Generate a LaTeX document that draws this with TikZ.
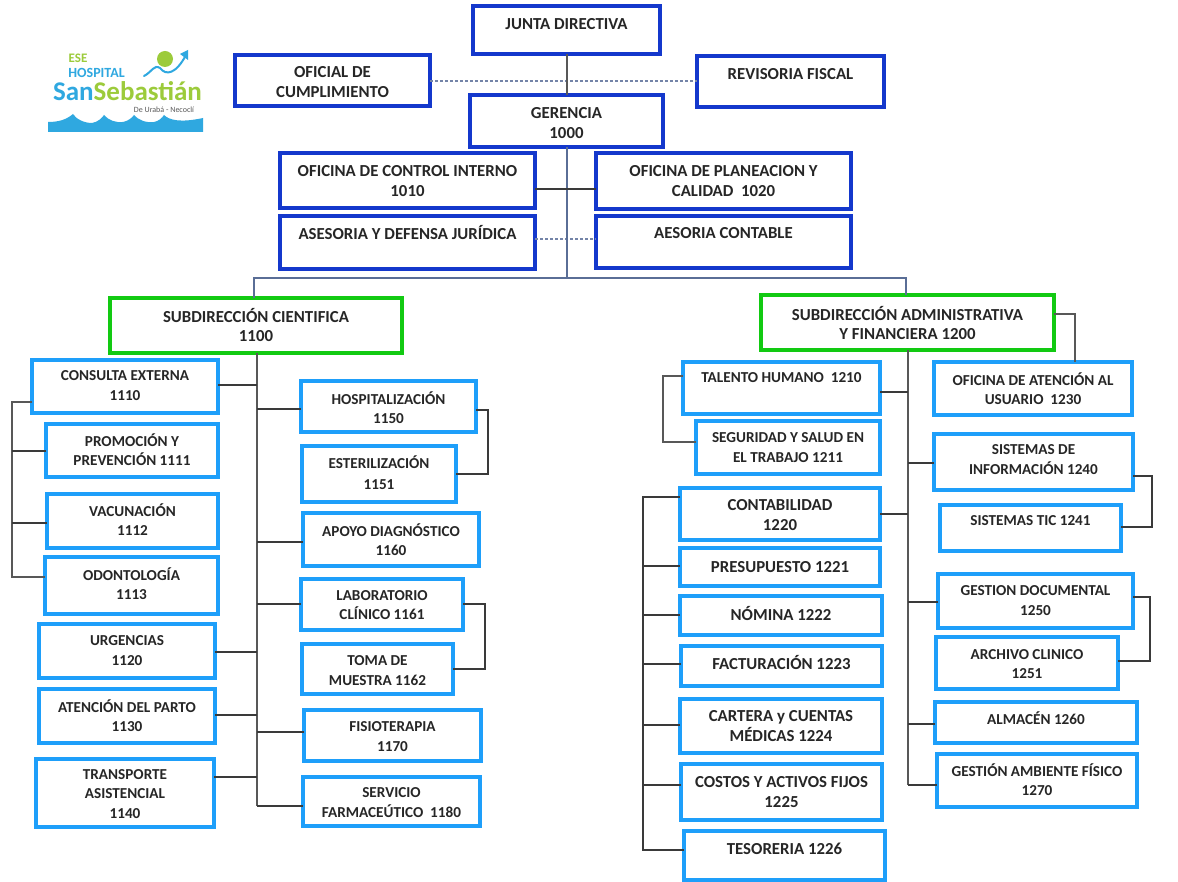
\documentclass[tikz,border=0pt]{standalone}
\usepackage{fontspec}
\setmainfont{Carlito}
\usetikzlibrary{calc}
\definecolor{bdark}{HTML}{1438CC}
\definecolor{blight}{HTML}{1E9FFA}
\definecolor{bgreen}{HTML}{12CA12}
\definecolor{txt}{HTML}{262626}
\definecolor{lnk}{HTML}{3A3A3A}
\definecolor{slate}{HTML}{5A6E96}
\definecolor{dotc}{HTML}{7484A8}
\definecolor{logoblue}{HTML}{2FA8E0}
\definecolor{logogreen}{HTML}{9CCB3B}
\newcommand{\lblbig}{\fontsize{16.8}{19.6}\selectfont}
\newcommand{\lblsmall}{\fontsize{15.2}{19.2}\selectfont}
\tikzset{
  boxdark/.style={draw=bdark,line width=3.1pt},
  boxlight/.style={draw=blight,line width=3.1pt},
  boxgreen/.style={draw=bgreen,line width=3.1pt},
  lblb/.style={text=txt,font=\bfseries\lblbig,align=center,inner sep=0pt},
  lbls/.style={text=txt,font=\bfseries\lblsmall,align=center,inner sep=0pt},
  lnkline/.style={draw=lnk,line width=1.3pt},
  trunkline/.style={draw=lnk!85,line width=1.7pt},
  slateline/.style={draw=slate,line width=1.6pt},
  dotline/.style={draw=dotc,line width=2.2pt,dash pattern=on 3pt off 2pt},
}
% \bx[text style]{name}{box style}{x1}{y1}{x2}{y2}{text centre y}{text}
\newcommand{\bx}[9][lbls]{%
  \path[#3] (#4,#5) rectangle (#6,#7);
  \node[inner sep=0pt,outer sep=0pt,minimum width={(#6-#4)*1pt},minimum height={(#7-#5)*1pt}] (#2) at ({(#4+#6)/2},{(#5+#7)/2}) {};
  \node[#1] (#2-t) at ({(#4+#6)/2},#8) {#9};
}
\begin{document}
\begin{tikzpicture}[x=1pt,y=-1pt]
\useasboundingbox[fill=white] (0,0) rectangle (1178,882);

% logo
\fill[logoblue] (48,132) -- (48,122) .. controls (58,122) and (66,120) .. (73,114) .. controls (76,119) and (84,123) .. (92,123) .. controls (98,122) and (102,118) .. (104,115) .. controls (108,120) and (116,123) .. (123,122) .. controls (128,121) and (132,118) .. (134,115) .. controls (138,120) and (146,123) .. (154,122) .. controls (159,121) and (162,118) .. (164,115) .. controls (169,120) and (180,123) .. (203,118) -- (203,132) -- cycle;
\node[inner sep=0pt,text=logogreen,font=\bfseries\fontsize{13}{13}\selectfont] (logoa) at (78,58) {ESE};
\node[inner sep=0pt,text=logoblue,font=\bfseries\fontsize{14}{14}\selectfont] (logob) at (96.5,73) {HOSPITAL};
\node[inner sep=0pt,font=\bfseries\fontsize{27}{27}\selectfont] (logoc) at (127.5,91) {\textcolor{logoblue}{San}\textcolor{logogreen}{Sebastián}};
\node[inner sep=0pt,text=black!65,font=\fontsize{8}{9}\selectfont] (logod) at (164,110) {De Urabá - Necoclí};
\fill[logogreen] (165,59) circle (8);
\draw[logoblue,line width=2pt,line cap=round] (144,76) .. controls (152,72) and (154,64) .. (160,68) .. controls (166,76) and (176,74) .. (186,55);
\fill[logoblue] (188,50) -- (180,54) -- (188,60) -- cycle;

% boxes
\bx[lblb]{junta}{boxdark}{473}{6}{660}{54}{24}{JUNTA DIRECTIVA}
\bx[lblb]{ofi}{boxdark}{235}{55}{430}{106}{82}{OFICIAL DE\\CUMPLIMIENTO}
\bx[lblb]{rev}{boxdark}{697}{56}{884}{107}{74}{REVISORIA FISCAL}
\bx[lblb]{ger}{boxdark}{470}{95}{663}{147}{123}{GERENCIA\\1000}
\bx[lblb]{oci}{boxdark}{280}{153}{535}{208}{181}{OFICINA DE CONTROL INTERNO\\1010}
\bx[lblb]{opc}{boxdark}{596}{153}{851}{209}{181}{OFICINA DE PLANEACION Y\\CALIDAD\ \ 1020}
\bx[lblb]{ase}{boxdark}{280}{216}{535}{269}{233}{ASESORIA Y DEFENSA JURÍDICA}
\bx[lblb]{aes}{boxdark}{596}{216}{851}{268}{233}{AESORIA CONTABLE}
\bx[lblb]{subc}{boxgreen}{110}{298}{402}{353}{325}{SUBDIRECCIÓN CIENTIFICA\\1100}
\bx[lblb]{suba}{boxgreen}{761}{295}{1054}{350}{323}{SUBDIRECCIÓN ADMINISTRATIVA\\Y FINANCIERA 1200}

\bx{cons}{boxlight}{32}{360}{218}{413}{385.5}{CONSULTA EXTERNA\\1110}
\bx{prom}{boxlight}{46}{424}{218}{477}{450}{PROMOCIÓN Y\\PREVENCIÓN 1111}
\bx{vac}{boxlight}{47}{494}{218}{548}{519.5}{VACUNACIÓN\\1112}
\bx{odo}{boxlight}{45}{557}{218}{614}{583.5}{ODONTOLOGÍA\\1113}
\bx{urg}{boxlight}{39}{624}{215}{678}{650.5}{URGENCIAS\\1120}
\bx{ate}{boxlight}{39}{689}{215}{743}{715.5}{ATENCIÓN DEL PARTO\\1130}
\bx{tra}{boxlight}{36}{759}{214}{827}{794}{TRANSPORTE\\ASISTENCIAL\\1140}
\bx{hos}{boxlight}{301}{381}{476}{432}{407.5}{HOSPITALIZACIÓN\\1150}
\bx{est}{boxlight}{302}{446}{456}{502}{472.5}{ESTERILIZACIÓN\\[2pt]1151}
\bx{apo}{boxlight}{303}{513}{479}{566}{539.5}{APOYO DIAGNÓSTICO\\1160}
\bx{lab}{boxlight}{301}{579}{463}{630}{605}{LABORATORIO\\CLÍNICO 1161}
\bx{tom}{boxlight}{302}{644}{453}{694}{670.5}{TOMA DE\\MUESTRA 1162}
\bx{fis}{boxlight}{304}{710}{481}{761}{736.5}{FISIOTERAPIA\\1170}
\bx{ser}{boxlight}{303}{777}{480}{826}{802.5}{SERVICIO\\FARMACEÚTICO\ \ 1180}

\bx{tal}{boxlight}{683}{362}{880}{414}{378}{TALENTO HUMANO\ \ 1210}
\bx{seg}{boxlight}{696}{421}{880}{474}{447.5}{SEGURIDAD Y SALUD EN\\EL TRABAJO 1211}
\bx[lblb]{con}{boxlight}{680}{488}{880}{540}{515}{CONTABILIDAD\\1220}
\bx[lblb]{pre}{boxlight}{680}{548}{880}{586}{567}{PRESUPUESTO 1221}
\bx[lblb]{nom}{boxlight}{680}{596}{882}{635}{614}{NÓMINA 1222}
\bx[lblb]{fac}{boxlight}{681}{646}{882}{686}{663}{FACTURACIÓN 1223}
\bx[lblb]{car}{boxlight}{680}{699}{882}{753}{726}{CARTERA y CUENTAS\\MÉDICAS 1224}
\bx[lblb]{cos}{boxlight}{681}{764}{882}{820}{792}{COSTOS Y ACTIVOS FIJOS\\1225}
\bx[lblb]{tes}{boxlight}{684}{831}{885}{880}{849}{TESORERIA 1226}
\bx{ate2}{boxlight}{934}{362}{1132}{415}{389}{OFICINA DE ATENCIÓN AL\\USUARIO\ \ 1230}
\bx{sis}{boxlight}{934}{434}{1133}{490}{459.5}{SISTEMAS DE\\INFORMACIÓN 1240}
\bx{tic}{boxlight}{940}{505}{1121}{551}{521}{SISTEMAS TIC 1241}
\bx{doc}{boxlight}{938}{574}{1133}{628}{600.5}{GESTION DOCUMENTAL\\1250}
\bx{arc}{boxlight}{936}{637}{1118}{689}{664}{ARCHIVO CLINICO\\1251}
\bx{alm}{boxlight}{935}{702}{1137}{743}{718}{ALMACÉN 1260}
\bx{amb}{boxlight}{937}{754}{1137}{807}{779.5}{GESTIÓN AMBIENTE FÍSICO\\1270}

% trunk coordinates
\coordinate (busL) at (254,278);
\coordinate (busR) at (906,278);
\coordinate (trL) at (257,353);
\coordinate (trR) at (908,350);
\coordinate (brL) at (12,402);
\coordinate (brT) at (663,376);
\coordinate (brC) at (643,497);

% top connectors
\draw[dotline] (ofi.east |- 0,81) -- (rev.west |- 0,81);
\draw[trunkline] (junta.south -| 567,0) -- (ger.north -| 567,0);
\draw[dotline] (ase.east |- 0,239) -- (aes.west |- 0,239);
\draw[slateline] (ger.south -| 567,0) -- (567,278);
\draw[slateline] (subc.north -| busL) -- (busL) -- (busR) -- (suba.north -| busR);
\draw[lnkline] (oci.east |- 0,189) -- (opc.west |- 0,189);

% left trunk
\draw[trunkline] (trL) -- (trL |- 0,806);
\foreach \n/\y in {cons/385,urg/652,ate/715,tra/777}
  \draw[lnkline] (\n.east |- 0,\y) -- (trL |- 0,\y);
\foreach \n/\y in {hos/409,apo/542,lab/604,fis/732,ser/806}
  \draw[lnkline] (trL |- 0,\y) -- (\n.west |- 0,\y);

% left bracket
\draw[trunkline] (cons.west |- brL) -- (brL) -- (brL |- 0,577) -- (odo.west |- 0,577);
\foreach \n/\y in {prom/451,vac/523}
  \draw[lnkline] (brL |- 0,\y) -- (\n.west |- 0,\y);

% pairs left
\draw[lnkline] (hos.east |- 0,410) -- (488,410) -- (488,474) -- (est.east |- 0,474);
\draw[lnkline] (lab.east |- 0,604) -- (485,604) -- (485,669) -- (tom.east |- 0,669);

% right trunk
\draw[trunkline] (trR) -- (trR |- 0,785);
\foreach \n/\y in {tal/392,con/514}
  \draw[lnkline] (\n.east |- 0,\y) -- (trR |- 0,\y);
\foreach \n/\y in {sis/463,doc/602,alm/724,amb/785}
  \draw[lnkline] (trR |- 0,\y) -- (\n.west |- 0,\y);

% right side links
\draw[trunkline] (suba.east |- 0,314) -- (1075,314) -- (ate2.north -| 1075,0);
\draw[trunkline] (tal.west |- brT) -- (brT) -- (663,442) -- (seg.west |- 0,442);
\draw[lnkline] (con.west |- brC) -- (brC) -- (643,850) -- (tes.west |- 0,850);
\foreach \n/\y in {pre/566,nom/615,fac/664,car/725,cos/785}
  \draw[lnkline] (brC |- 0,\y) -- (\n.west |- 0,\y);
\draw[lnkline] (sis.east |- 0,476) -- (1152,476) -- (1152,527) -- (tic.east |- 0,527);
\draw[lnkline] (doc.east |- 0,597) -- (1150,597) -- (1150,661) -- (arc.east |- 0,661);
\end{tikzpicture}
\end{document}
